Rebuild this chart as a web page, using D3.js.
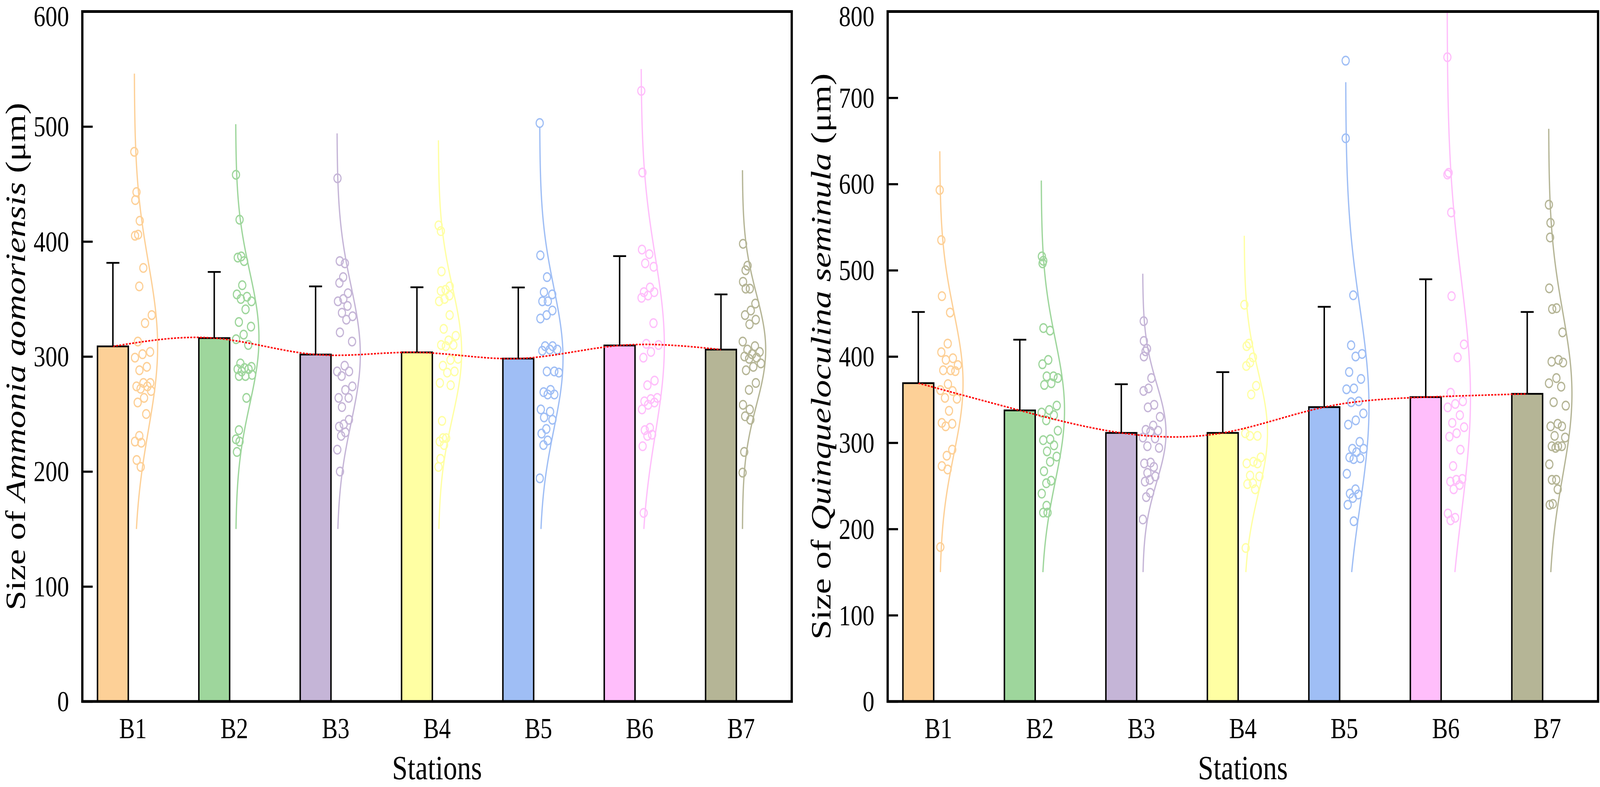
<!DOCTYPE html>
<html>
<head>
<meta charset="utf-8">
<title>Foraminifera size by station</title>
<script src="https://d3js.org/d3.v7.min.js"></script>
<style>
  html, body { margin: 0; padding: 0; background: #fff; overflow: hidden; }
  #chart svg { display: block; width: 100vw; height: 100vh; }
  svg text { font-family: "Liberation Serif", "Times New Roman", serif; fill: #000; }
</style>
</head>
<body>
<div id="chart"></div>
<script>
// ---- data ----
const stations = ["B1", "B2", "B3", "B4", "B5", "B6", "B7"];
const stationColors = ["#FDD097", "#9ED69C", "#C5B5D7", "#FFFFA3", "#9FBEF5", "#FFBEFB", "#B5B596"];

// Ammonia aomoriensis
const meanA = [308.8, 316.0, 301.7, 303.6, 298.2, 309.6, 306.0];
const sdA = [72.6, 57.5, 59.3, 56.6, 61.8, 77.7, 48.0];
const curveTopA = [546, 503, 495, 488, 501, 550, 463];
const pointsA = [
  [478, 443, 436, 418, 406, 405, 377, 361, 336, 329, 313, 304, 302, 299, 291, 288, 277, 277, 274, 274, 272, 270, 264, 260, 250, 231, 226, 225, 210, 204],
  [458, 419, 387, 386, 383, 362, 354, 352, 350, 348, 341, 330, 326, 319, 315, 310, 294, 291, 290, 289, 289, 287, 284, 283, 283, 264, 236, 228, 226, 217],
  [455, 383, 381, 369, 364, 355, 350, 348, 344, 338, 335, 332, 321, 313, 292, 287, 287, 283, 274, 271, 264, 264, 256, 245, 241, 239, 234, 231, 219, 200],
  [414, 409, 374, 361, 358, 357, 353, 350, 348, 336, 324, 318, 314, 310, 310, 309, 298, 297, 292, 287, 286, 277, 275, 244, 229, 229, 226, 223, 211, 204],
  [503, 388, 369, 356, 354, 348, 348, 340, 336, 333, 309, 309, 306, 306, 305, 287, 287, 286, 271, 269, 267, 267, 254, 252, 247, 245, 237, 233, 227, 223, 194],
  [531, 460, 393, 389, 381, 378, 360, 356, 356, 353, 351, 329, 311, 310, 304, 299, 279, 275, 264, 263, 261, 260, 258, 254, 238, 236, 232, 231, 222, 164],
  [398, 379, 375, 365, 359, 359, 346, 340, 336, 332, 328, 313, 309, 306, 304, 302, 300, 299, 298, 294, 291, 288, 277, 271, 258, 254, 248, 245, 217, 199]
];

// Quinqueloculina seminula
const meanQ = [369.1, 337.5, 311.4, 311.4, 341.3, 352.9, 356.7];
const sdQ = [82.5, 82.0, 56.4, 70.5, 116.3, 136.7, 94.9];
const curveTopQ = [638, 605, 497, 541, 719, 805, 665];
const pointsQ = [
  [593, 535, 470, 451, 415, 405, 398, 396, 390, 384, 384, 383, 368, 361, 360, 352, 351, 337, 323, 322, 319, 292, 285, 273, 269, 179],
  [516, 511, 508, 433, 430, 396, 391, 377, 377, 375, 369, 367, 343, 338, 335, 332, 326, 314, 304, 303, 297, 290, 284, 278, 267, 256, 253, 241, 227, 219, 219],
  [441, 418, 409, 406, 400, 375, 363, 360, 344, 341, 330, 320, 315, 314, 313, 306, 305, 296, 294, 277, 276, 272, 265, 261, 257, 255, 242, 237, 211],
  [460, 415, 412, 399, 393, 389, 366, 356, 311, 308, 308, 283, 278, 276, 276, 262, 261, 253, 252, 246, 178],
  [743, 653, 471, 413, 403, 400, 382, 374, 363, 362, 348, 347, 334, 326, 321, 301, 293, 293, 289, 283, 282, 281, 264, 246, 241, 240, 236, 228, 209],
  [747, 613, 611, 567, 470, 414, 399, 358, 348, 345, 341, 332, 323, 318, 311, 307, 292, 273, 258, 257, 255, 251, 246, 218, 213, 210],
  [576, 555, 538, 479, 456, 455, 428, 396, 394, 393, 375, 369, 365, 347, 343, 322, 319, 319, 308, 306, 296, 296, 296, 294, 275, 257, 257, 246, 229, 228]
];

const yTicksA = [0, 100, 200, 300, 400, 500, 600];
const yTicksQ = [0, 100, 200, 300, 400, 500, 600, 700, 800];
const curveBottom = 150;

// ---- layout (drawn in a 4937 x 2015 space, stretched to the window) ----
const W = 4937, H = 2015;
const plotTop = 29.5, plotBottom = 1796;
const fontStack = '"Liberation Serif", "Times New Roman", serif';

const svg = d3.select("#chart").append("svg")
  .attr("viewBox", `0 0 ${W} ${H}`)
  .attr("preserveAspectRatio", "none");

svg.append("rect").attr("width", W).attr("height", H).attr("fill", "#fff");

function drawPanel(p) {
  const x = d3.scaleBand().domain(stations).range([p.x0, p.x1]).padding(0);
  const y = d3.scaleLinear().domain([0, p.yMax]).range([plotBottom, plotTop]);
  const center = s => x(s) + x.bandwidth() / 2;
  const barW = 95, barOff = -62, baseOff = 4, peakW = 72;

  const g = svg.append("g");
  const clipId = "clip" + p.id;
  svg.append("clipPath").attr("id", clipId)
    .append("rect").attr("x", p.x0).attr("y", plotTop)
    .attr("width", p.x1 - p.x0).attr("height", plotBottom - plotTop);

  // bars
  g.selectAll("rect.bar").data(stations).join("rect")
    .attr("class", "bar")
    .attr("x", s => center(s) + barOff - barW / 2)
    .attr("width", barW)
    .attr("y", (s, i) => y(p.means[i]))
    .attr("height", (s, i) => y(0) - y(p.means[i]))
    .attr("fill", (s, i) => stationColors[i])
    .attr("stroke", "#000")
    .attr("stroke-width", 4.5);

  // half distribution curves (normal fit from mean / SD)
  const curveW = (v, i) => peakW * Math.exp(-0.5 * Math.pow((v - p.means[i]) / p.sds[i], 2));
  const line = d3.line().x(d => d[0]).y(d => d[1]);
  const cg = g.append("g").attr("clip-path", `url(#${clipId})`);
  stations.forEach((s, i) => {
    const base = center(s) + baseOff;
    const vals = d3.range(curveBottom, p.tops[i] + 0.01, 2);
    cg.append("path")
      .attr("d", line(vals.map(v => [base + curveW(v, i), y(v)])))
      .attr("fill", "none")
      .attr("stroke", stationColors[i])
      .attr("stroke-width", 4);

    // points spread inside the curve envelope
    cg.selectAll(null).data(p.points[i]).join("circle")
      .attr("cx", (v, k) => base + ((k * 0.6180339 + i * 0.37) % 1) * 0.85 * curveW(v, i))
      .attr("cy", v => y(v))
      .attr("r", 11)
      .attr("fill", "none")
      .attr("stroke", stationColors[i])
      .attr("stroke-width", 3.5);
  });

  // mean trend line
  const trend = d3.line()
    .x((d, i) => center(stations[i]) + barOff)
    .y(d => y(d))
    .curve(d3.curveNatural);
  g.append("path")
    .attr("d", trend(p.means))
    .attr("fill", "none")
    .attr("stroke", "#FF0000")
    .attr("stroke-width", 4)
    .attr("stroke-dasharray", "6,4");

  // error bars (upper SD)
  stations.forEach((s, i) => {
    const cx = center(s) + barOff;
    const yt = y(p.means[i] + p.sds[i]);
    g.append("line").attr("x1", cx).attr("x2", cx)
      .attr("y1", y(p.means[i])).attr("y2", yt)
      .attr("stroke", "#000").attr("stroke-width", 4.5);
    g.append("line").attr("x1", cx - 20).attr("x2", cx + 20)
      .attr("y1", yt).attr("y2", yt)
      .attr("stroke", "#000").attr("stroke-width", 4.5);
  });

  // y axis (ticks inside)
  const ya = g.append("g").attr("transform", `translate(${p.x0},0)`)
    .call(d3.axisLeft(y).tickValues(p.ticks).tickSizeInner(-32).tickSizeOuter(0).tickPadding(41));
  ya.select(".domain").remove();
  ya.selectAll(".tick line").attr("stroke", "#000").attr("stroke-width", 5.5);
  ya.selectAll(".tick text")
    .attr("font-size", 73)
    .attr("font-family", fontStack)
    .attr("dy", d => d === p.yMax ? "0.5em" : "0.34em");

  // x axis labels
  const xa = g.append("g").attr("transform", `translate(0,${plotBottom})`)
    .call(d3.axisBottom(x).tickSize(0).tickPadding(0));
  xa.select(".domain").remove();
  xa.selectAll(".tick text")
    .attr("font-size", 73)
    .attr("font-family", fontStack)
    .attr("y", 94)
    .attr("dy", null);

  // frame
  g.append("rect")
    .attr("x", p.x0).attr("y", plotTop)
    .attr("width", p.x1 - p.x0).attr("height", plotBottom - plotTop)
    .attr("fill", "none").attr("stroke", "#000").attr("stroke-width", 7);

  // titles
  g.append("text")
    .attr("x", (p.x0 + p.x1) / 2).attr("y", 1995)
    .attr("text-anchor", "middle").attr("font-size", 86)
    .text("Stations");

  const t = g.append("text")
    .attr("transform", `translate(${p.x0 - 177},${(plotTop + plotBottom) / 2}) rotate(-90)`)
    .attr("text-anchor", "middle").attr("font-size", 86)
    .attr("textLength", p.titleLen)
    .attr("lengthAdjust", "spacingAndGlyphs");
  t.append("tspan").text("Size of ");
  t.append("tspan").attr("font-style", "italic").text(p.species);
  t.append("tspan").text(" (\u03bcm)");
}

drawPanel({ id: "A", x0: 254, x1: 2443, yMax: 600, ticks: yTicksA, titleLen: 1300,
  means: meanA, sds: sdA, tops: curveTopA, points: pointsA, species: "Ammonia aomoriensis" });
drawPanel({ id: "Q", x0: 2739, x1: 4931, yMax: 800, ticks: yTicksQ, titleLen: 1450,
  means: meanQ, sds: sdQ, tops: curveTopQ, points: pointsQ, species: "Quinqueloculina seminula" });
</script>
</body>
</html>
